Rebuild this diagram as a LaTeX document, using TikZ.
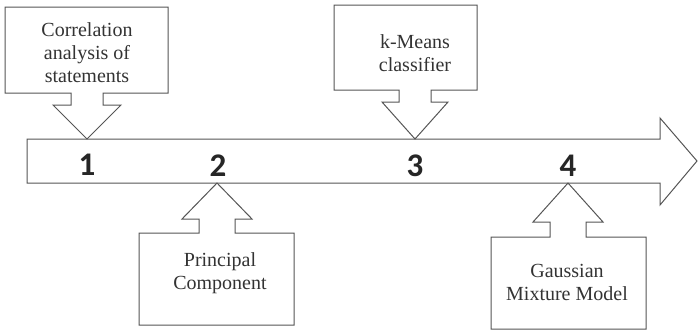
\documentclass[tikz,border=0pt]{standalone}
\usepackage{fontspec}
\setmainfont{Liberation Serif}
\newfontfamily\numfont{Carlito}
\definecolor{linec}{HTML}{555555}
\definecolor{textc}{HTML}{333333}
\begin{document}
\begin{tikzpicture}[x=1pt,y=-1pt,
  shapeline/.style={draw=linec,line width=1pt,fill=white,line join=miter},
  lbl/.style={text=textc,font=\fontsize{20}{23}\selectfont,align=center,inner sep=0pt},
  num/.style={text=black!85,font=\numfont\bfseries\fontsize{33}{33}\selectfont,inner sep=0pt}]
\useasboundingbox (0,0) rectangle (698,330);
% main arrow
\draw[shapeline] (27,139) -- (660,139) -- (660,118) -- (697,161) -- (660,205) -- (660,183) -- (27,183) -- cycle;
% callout 1 (down)
\draw[shapeline] (5,7) -- (168,7) -- (168,93) -- (103,93) -- (103,105) -- (121,105) -- (87,139) -- (53,105) -- (71,105) -- (71,93) -- (5,93) -- cycle;
% callout 3 (down)
\draw[shapeline] (334,5) -- (477,5) -- (477,90) -- (431,90) -- (431,102) -- (448,102) -- (415,139) -- (382,102) -- (399,102) -- (399,90) -- (334,90) -- cycle;
% callout 2 (up)
\draw[shapeline] (139,325) -- (294,325) -- (294,233) -- (235,233) -- (235,219) -- (252,219) -- (217,183) -- (182,219) -- (199,219) -- (199,233) -- (139,233) -- cycle;
% callout 4 (up)
\draw[shapeline] (491,329) -- (646,329) -- (646,237) -- (586,237) -- (586,222) -- (603,222) -- (568,183) -- (533,222) -- (550,222) -- (550,237) -- (491,237) -- cycle;
% labels
\node[lbl] (t1) at (87,53) {Correlation\\analysis of\\statements};
\node[lbl] (t3) at (415,53) {k-Means\\classifier};
\node[lbl] (t2) at (220,273) {Principal\\Component};
\node[lbl] (t4) at (567,282) {Gaussian\\Mixture Model};
% numbers
\node[num] (n1) at (87,165) {1};
\node[num] (n2) at (218,166) {2};
\node[num] (n3) at (415,166) {3};
\node[num] (n4) at (568,166) {4};
\end{tikzpicture}
\end{document}
